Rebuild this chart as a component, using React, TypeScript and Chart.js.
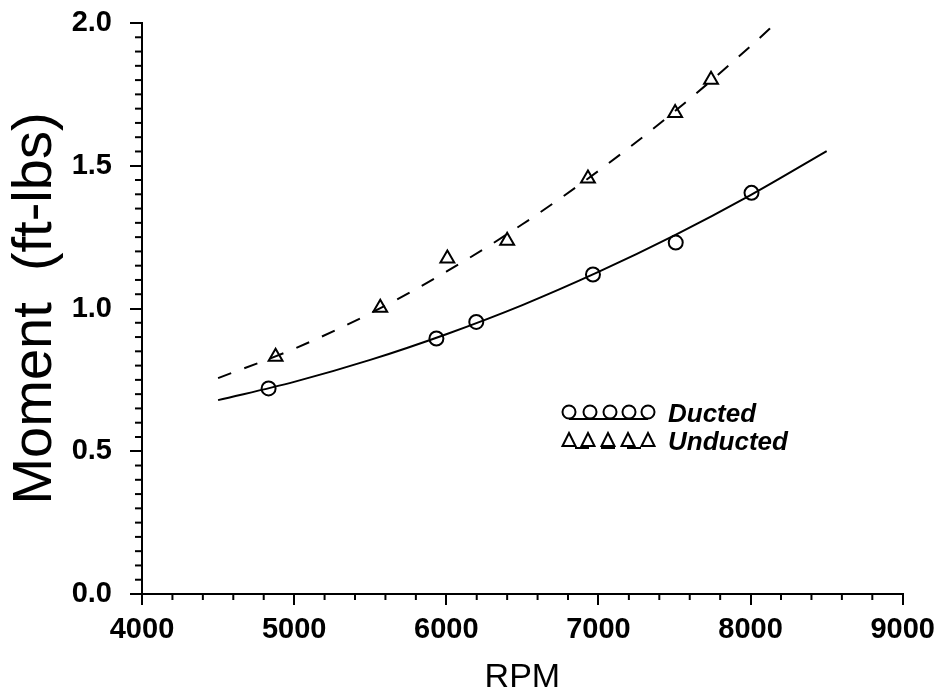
import React, { useEffect, useRef } from "react";
import { Chart, registerables } from "chart.js";

Chart.register(...registerables);

// Measured data points
const ductedRpm = [4832, 5935, 6197, 6964, 7508, 8006];
const ductedMoment = [0.72, 0.895, 0.953, 1.119, 1.231, 1.405];
const unductedRpm = [4878, 5566, 6007, 6400, 6931, 7504, 7740];
const unductedMoment = [0.831, 1.003, 1.175, 1.237, 1.455, 1.685, 1.801];

// Fitted curves
const ductedFitRpm = [4500, 5000, 5500, 6000, 6500, 7000, 7500, 8000, 8500];
const ductedFit = [0.679, 0.743, 0.82, 0.91, 1.012, 1.128, 1.256, 1.397, 1.551];
const unductedFitRpm = [4500, 5000, 5500, 6000, 6500, 7000, 7500, 8000, 8190];
const unductedFit = [0.756, 0.859, 0.983, 1.129, 1.295, 1.482, 1.69, 1.919, 2.012];

// Axis ticks
const xMin = 4000;
const xMax = 9000;
const xStep = 1000;
const xMinorStep = 200;
const yMin = 0;
const yMax = 2;
const yStep = 0.5;
const yMinorStep = 0.05;

const xTitle = "RPM";
const yTitle = "Moment  (ft-lbs)";
const legendLabels = ["Ducted", "Unducted"];

const FONT = "'Liberation Sans', Arial, sans-serif";

const zip = (xs: number[], ys: number[]) => xs.map((x, i) => ({ x, y: ys[i] }));

const minorTicks = {
  id: "minorTicks",
  afterDraw(chart: any) {
    const { ctx, chartArea, scales } = chart;
    const xs = scales.x;
    const ys = scales.y;
    ctx.save();
    ctx.strokeStyle = "#000";
    ctx.lineWidth = 2;
    const nx = Math.round((xMax - xMin) / xMinorStep);
    for (let i = 0; i <= nx; i++) {
      const v = xMin + i * xMinorStep;
      if (v % xStep === 0) continue;
      const px = xs.getPixelForValue(v);
      ctx.beginPath();
      ctx.moveTo(px, chartArea.bottom);
      ctx.lineTo(px, chartArea.bottom + 6);
      ctx.stroke();
    }
    const ny = Math.round((yMax - yMin) / yMinorStep);
    const per = Math.round(yStep / yMinorStep);
    for (let i = 0; i <= ny; i++) {
      if (i % per === 0) continue;
      const v = yMin + i * yMinorStep;
      const py = ys.getPixelForValue(v);
      ctx.beginPath();
      ctx.moveTo(chartArea.left, py);
      ctx.lineTo(chartArea.left - 7, py);
      ctx.stroke();
    }
    ctx.restore();
  },
};

const customLegend = {
  id: "customLegend",
  afterDraw(chart: any) {
    const { ctx } = chart;
    ctx.save();
    ctx.strokeStyle = "#000";
    ctx.fillStyle = "#000";
    ctx.lineWidth = 2;
    // Row 1: circles + solid underline
    const cx = [569, 590, 610, 629, 648];
    const y1 = 412;
    cx.forEach((x) => {
      ctx.beginPath();
      ctx.arc(x, y1, 6.5, 0, Math.PI * 2);
      ctx.stroke();
    });
    ctx.beginPath();
    ctx.moveTo(569, y1 + 7);
    ctx.lineTo(648, y1 + 7);
    ctx.stroke();
    // Row 2: triangles + dashed underline
    const tx = [569, 588, 608, 628, 648];
    const y2 = 441;
    tx.forEach((x) => {
      ctx.beginPath();
      ctx.moveTo(x, y2 - 8);
      ctx.lineTo(x + 6.5, y2 + 5);
      ctx.lineTo(x - 6.5, y2 + 5);
      ctx.closePath();
      ctx.stroke();
    });
    ctx.beginPath();
    ctx.setLineDash([14, 12]);
    ctx.lineDashOffset = -8;
    ctx.moveTo(567, y2 + 7);
    ctx.lineTo(652, y2 + 7);
    ctx.stroke();
    ctx.setLineDash([]);
    ctx.font = `italic bold 26px ${FONT}`;
    ctx.textBaseline = "alphabetic";
    ctx.textAlign = "left";
    ctx.fillText(legendLabels[0], 668, 422);
    ctx.fillText(legendLabels[1], 668, 450);
    ctx.restore();
  },
};

export default function App() {
  const ref = useRef<HTMLCanvasElement | null>(null);

  useEffect(() => {
    if (!ref.current) return;
    const chart = new Chart(ref.current, {
      type: "scatter",
      data: {
        datasets: [
          {
            label: "Ducted fit",
            data: zip(ductedFitRpm, ductedFit),
            showLine: true,
            borderColor: "#000",
            borderWidth: 2,
            pointRadius: 0,
            cubicInterpolationMode: "monotone",
            fill: false,
          },
          {
            label: "Unducted fit",
            data: zip(unductedFitRpm, unductedFit),
            showLine: true,
            borderColor: "#000",
            borderWidth: 2,
            borderDash: [14, 14],
            pointRadius: 0,
            cubicInterpolationMode: "monotone",
            fill: false,
            clip: false,
          },
          {
            label: legendLabels[0],
            data: zip(ductedRpm, ductedMoment),
            pointStyle: "circle",
            pointRadius: 7,
            borderColor: "#000",
            borderWidth: 2,
            backgroundColor: "rgba(0,0,0,0)",
            showLine: false,
          },
          {
            label: legendLabels[1],
            data: zip(unductedRpm, unductedMoment),
            pointStyle: "triangle",
            pointRadius: 8,
            borderColor: "#000",
            borderWidth: 2,
            backgroundColor: "rgba(0,0,0,0)",
            showLine: false,
          },
        ],
      },
      options: {
        animation: false,
        responsive: false,
        devicePixelRatio: 1,
        layout: { padding: { top: 23, right: 38, left: 0, bottom: 0 } },
        plugins: {
          legend: { display: false },
          tooltip: { enabled: false },
        },
        scales: {
          x: {
            type: "linear",
            min: xMin,
            max: xMax,
            afterFit: (s: any) => {
              s.height = 104;
            },
            ticks: {
              stepSize: xStep,
              color: "#000",
              padding: 8,
              maxRotation: 0,
              font: { family: FONT, size: 29, weight: "bold" },
              callback: (v: any) => String(v),
            },
            grid: {
              drawOnChartArea: false,
              drawTicks: true,
              tickLength: 11,
              color: "#000",
              lineWidth: 2,
            },
            border: { display: true, color: "#000", width: 2 },
            title: {
              display: true,
              text: xTitle,
              color: "#000",
              font: { family: FONT, size: 34, weight: "normal" },
              padding: { top: 0, bottom: 0 },
            },
          },
          y: {
            type: "linear",
            min: yMin,
            max: yMax,
            afterFit: (s: any) => {
              s.width = 142;
            },
            ticks: {
              stepSize: yStep,
              color: "#000",
              padding: 18,
              font: { family: FONT, size: 29, weight: "bold", lineHeight: 0.3 },
              callback: (v: any) => Number(v).toFixed(1),
            },
            grid: {
              drawOnChartArea: false,
              drawTicks: true,
              tickLength: 12,
              color: "#000",
              lineWidth: 2,
            },
            border: { display: true, color: "#000", width: 2 },
            title: {
              display: true,
              text: yTitle,
              color: "#000",
              font: { family: FONT, size: 56, weight: "normal" },
              padding: { top: 2, bottom: 0 },
            },
          },
        },
      },
      plugins: [minorTicks, customLegend],
    });
    return () => chart.destroy();
  }, []);

  return (
    <div style={{ position: "absolute", left: 0, top: 0, width: 943, height: 698, background: "#fff" }}>
      <canvas ref={ref} width={943} height={698} />
    </div>
  );
}
